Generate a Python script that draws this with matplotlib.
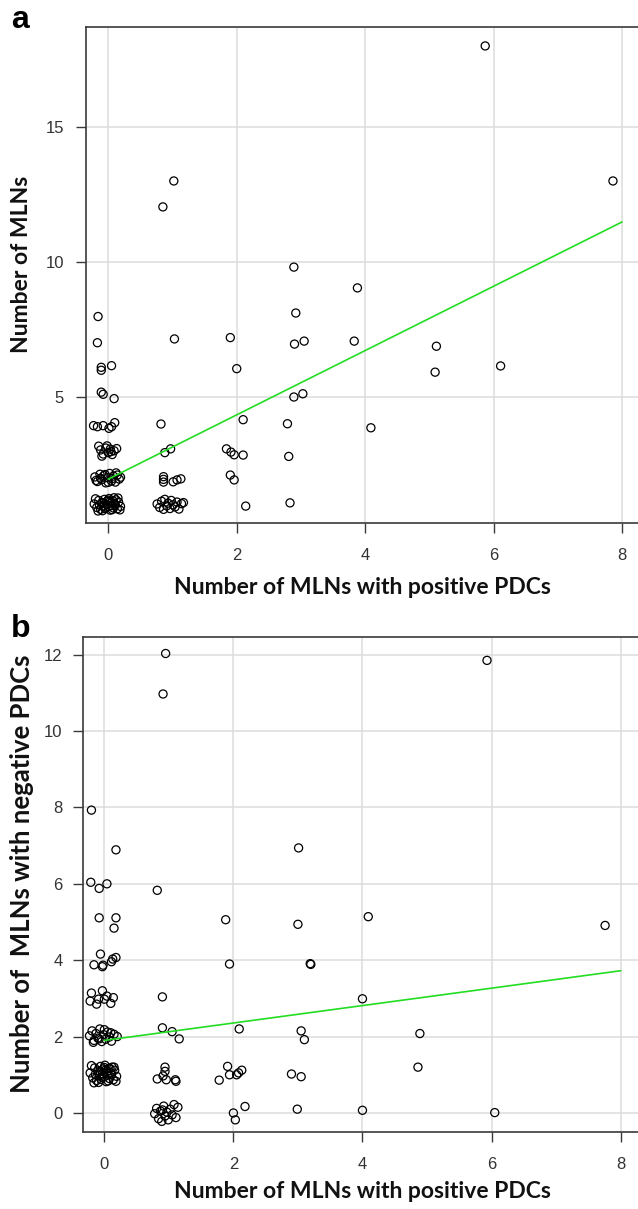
import numpy as np
import matplotlib
matplotlib.use("Agg")
import matplotlib.pyplot as plt

# ---- data (jitter included) ----
# panel a: number of MLNs vs number of MLNs with positive PDCs
pos_a = [5.87, 7.86, 1.02, 0.85, 2.89, 3.88, 2.92, 2.90, 3.05, 3.83, 5.11, 5.09, 6.11,
         2.89, 3.03, 2.79, 4.09, 2.81, 2.83,
         -0.16, -0.17, 1.03, 1.90, -0.11, -0.11, 0.05, 2.00, -0.11, -0.08, 0.09, 2.10, 0.82,
         -0.23, -0.17, -0.08, 0.01, 0.05, 0.10,
         -0.15, -0.12, -0.08, -0.04, 0.00, 0.03, 0.06, 0.09, 0.13, -0.10, 0.04, -0.02,
         0.88, 0.97, 1.84, 1.91, 1.96, 2.10,
         -0.21, -0.17, -0.13, -0.10, -0.07, -0.04, -0.01, 0.02, 0.05, 0.08,
         0.11, 0.14, 0.17, -0.19, -0.12, -0.05, 0.00, 0.06, 0.12, 0.19,
         0.86, 0.86, 0.86, 1.01, 1.07, 1.13, 1.90, 1.96,
         -0.22, -0.18, -0.15, -0.12, -0.10, -0.08, -0.06, -0.05, -0.03, -0.02, 0.00, 0.01,
         0.03, 0.04, 0.05, 0.07, 0.08, 0.10, 0.12, 0.14, 0.16, 0.19, -0.20, -0.14, -0.09,
         -0.04, 0.02, 0.06, 0.11, 0.15, -0.16, -0.07, 0.00, 0.09, 0.18,
         0.76, 0.80, 0.83, 0.86, 0.88, 0.91, 0.93, 0.96, 0.98, 1.01, 1.04, 1.07, 1.10, 1.14, 1.17,
         2.14]
mln_a = [18.01, 13.01, 13.01, 12.05, 9.82, 9.05, 8.12, 6.97, 7.08, 7.08, 6.89, 5.93, 6.16,
         5.01, 5.13, 4.02, 3.87, 2.81, 1.09,
         7.99, 7.02, 7.16, 7.21, 6.11, 6.00, 6.17, 6.06, 5.19, 5.11, 4.95, 4.17, 4.01,
         3.95, 3.91, 3.95, 3.85, 3.91, 4.06,
         3.19, 3.05, 2.90, 3.12, 2.95, 3.08, 2.88, 3.02, 3.10, 2.82, 2.99, 3.20,
         2.95, 3.09, 3.09, 2.97, 2.87, 2.86,
         2.05, 1.88, 2.15, 1.95, 2.10, 1.83, 2.02, 2.18, 1.90, 2.08,
         1.86, 2.12, 1.97, 1.92, 2.00, 2.14, 1.85, 1.99, 2.20, 2.04,
         2.06, 1.96, 1.86, 1.87, 1.94, 1.98, 2.12, 1.94,
         1.05, 0.92, 1.18, 0.85, 1.10, 0.98, 1.22, 0.88, 1.03, 1.15, 0.95, 1.25,
         0.82, 1.08, 0.99, 1.17, 0.90, 1.05, 1.20, 0.87, 1.12, 0.96, 1.24, 1.01, 0.80,
         0.93, 1.13, 0.84, 1.00, 1.27, 0.79, 1.09, 1.19, 1.28, 0.83,
         1.05, 0.92, 1.15, 0.85, 1.22, 0.98, 1.08, 0.88, 1.18, 1.02, 0.94, 1.12, 0.86, 1.06, 1.10,
         0.97]

# panel b: number of MLNs with negative PDCs vs positive
pos_b = [0.95, 0.91, 5.93, -0.20, 0.18, 3.01, -0.21, -0.08, 0.04, 0.82, 7.76, 4.09, 3.00,
         1.88, -0.08, 0.18, 0.15,
         -0.06, -0.16, -0.02, -0.03, 0.11, 0.18, 0.13,
         3.19, 3.20, 1.94, 4.00,
         -0.20, -0.03, -0.22, -0.12, 0.00, 0.10, 0.14, 0.04, -0.09, 0.90,
         -0.23, -0.19, -0.16, -0.13, -0.10, -0.07, -0.04, -0.01, 0.02, 0.05, 0.08, 0.11,
         0.15, 0.20, -0.17, -0.08, 0.00, 0.10,
         0.90, 1.05, 1.16, 2.09, 3.05, 3.10, 4.89,
         -0.22, -0.18, -0.15, -0.12, -0.10, -0.08, -0.06, -0.05, -0.03, -0.02, 0.00, 0.01,
         0.03, 0.04, 0.05, 0.07, 0.08, 0.10, 0.12, 0.14, 0.16, 0.19, -0.20, -0.14, -0.09,
         -0.04, 0.02, 0.06, 0.11, 0.15, -0.16, -0.07, 0.00, 0.09, 0.18,
         0.94, 0.94, 0.82, 0.96, 1.10, 1.11, 0.91,
         1.91, 1.78, 1.94, 2.05, 2.13, 2.08, 2.90, 3.05, 4.86,
         0.78, 0.81, 0.84, 0.87, 0.89, 0.92, 0.94, 0.97, 0.99, 1.02, 1.05, 1.08, 1.11, 1.14, 0.90,
         2.00, 2.03, 2.18, 2.99, 4.00, 6.05]
neg_b = [12.03, 10.97, 11.85, 7.93, 6.89, 6.94, 6.04, 5.88, 6.00, 5.83, 4.91, 5.14, 4.94,
         5.06, 5.11, 5.11, 4.84,
         4.16, 3.88, 3.87, 3.83, 3.96, 4.07, 4.03,
         3.91, 3.89, 3.90, 2.99,
         3.14, 3.20, 2.93, 2.85, 2.98, 2.87, 3.02, 3.06, 2.98, 3.04,
         2.02, 2.15, 1.90, 2.08, 1.96, 2.20, 1.87, 2.05, 1.93, 2.12, 1.99, 1.88,
         2.06, 2.00, 1.85, 1.94, 2.18, 2.10,
         2.23, 2.13, 1.94, 2.20, 2.15, 1.92, 2.08,
         1.05, 0.92, 1.18, 0.85, 1.10, 0.98, 1.22, 0.88, 1.03, 1.15, 0.95, 1.25,
         0.82, 1.08, 0.99, 1.17, 0.90, 1.05, 1.20, 0.87, 1.12, 0.96, 1.24, 1.01, 0.80,
         0.93, 1.13, 0.84, 1.00, 1.20, 0.79, 1.09, 1.19, 1.16, 0.83,
         1.20, 1.09, 0.89, 0.87, 0.87, 0.83, 0.97,
         1.22, 0.86, 1.00, 1.00, 1.12, 1.05, 1.02, 0.95, 1.20,
         -0.02, 0.12, -0.15, 0.05, -0.22, 0.18, -0.08, 0.02, -0.18, 0.10, -0.05, 0.22, -0.12, 0.15, 0.08,
         0.00, -0.18, 0.17, 0.10, 0.07, 0.01]

# regression lines (intercept, slope)
fit_a = (1.97, 1.19)
fit_b = (1.90, 0.228)

x_ticks = [0, 2, 4, 6, 8]
y_ticks_a = [5, 10, 15]
y_ticks_b = [0, 2, 4, 6, 8, 10, 12]

xlabel = "Number of MLNs with positive PDCs"
ylabel_a = "Number of MLNs"
ylabel_b = "Number of  MLNs with negative PDCs"

W, H = 638, 1209
fig = plt.figure(figsize=(W / 100, H / 100), dpi=100)

label_font = dict(family="Lato", weight="bold", color="#111111")
tick_font = "Liberation Sans"
spine_col = "#3a3a3a"
grid_col = "#dcdcdc"


def style_axes(ax, xlim, ylim, yticks, ypad):
    ax.set_xlim(*xlim)
    ax.set_ylim(*ylim)
    ax.set_xticks(x_ticks)
    ax.set_yticks(yticks)
    ax.grid(True, color=grid_col, linewidth=1.1)
    ax.set_axisbelow(True)
    ax.spines["right"].set_visible(False)
    for s in ["top", "left", "bottom"]:
        ax.spines[s].set_color(spine_col)
        ax.spines[s].set_linewidth(1.2)
    ax.tick_params(axis="both", length=7.2, width=1.0, color=spine_col,
                   labelsize=12, labelcolor="#333333")
    ax.tick_params(axis="x", pad=11)
    ax.tick_params(axis="y", pad=ypad)
    for lab in ax.get_xticklabels() + ax.get_yticklabels():
        lab.set_family(tick_font)


marker_kw = dict(s=34, facecolors="none", edgecolors="black", linewidths=0.9, zorder=3)
xl = np.array([0, 8])

# panel a
ax_a = fig.add_axes([86.3 / W, 1 - 522.5 / H, (W - 86.3) / W, (522.5 - 27.3) / H])
ax_a.scatter(pos_a, mln_a, **marker_kw)
ax_a.plot(xl, fit_a[0] + fit_a[1] * xl, color="#22dd22", linewidth=1.2, zorder=4)
style_axes(ax_a, (-0.343, 8.25), (0.363, 18.70), y_ticks_a, 9)

# panel b
ax_b = fig.add_axes([83.3 / W, 1 - 1131.7 / H, (W - 83.3) / W, (1131.7 - 636.7) / H])
ax_b.scatter(pos_b, neg_b, **marker_kw)
ax_b.plot(xl, fit_b[0] + fit_b[1] * xl, color="#22dd22", linewidth=1.2, zorder=4)
style_axes(ax_b, (-0.326, 8.27), (-0.49, 12.47), y_ticks_b, 7.6)

# axis labels
fig.text(362 / W, 1 - 588 / H, xlabel, ha="center", va="center", size=16.5, **label_font)
fig.text(362 / W, 1 - 1192 / H, xlabel, ha="center", va="center", size=16.5, **label_font)
fig.text(22 / W, 1 - 264 / H, ylabel_a, ha="center", va="center", rotation=90,
         size=16.5, **label_font)
fig.text(22 / W, 1 - 874 / H, ylabel_b, ha="center", va="center", rotation=90,
         size=18.5, **label_font)

# panel letters
fig.text(11 / W, 1 - 28.5 / H, "a", ha="left", va="baseline",
         family="Liberation Sans", weight="bold", size=23)
fig.text(11 / W, 1 - 637 / H, "b", ha="left", va="baseline",
         family="Liberation Sans", weight="bold", size=23)

fig.savefig("out.png", dpi=100)
